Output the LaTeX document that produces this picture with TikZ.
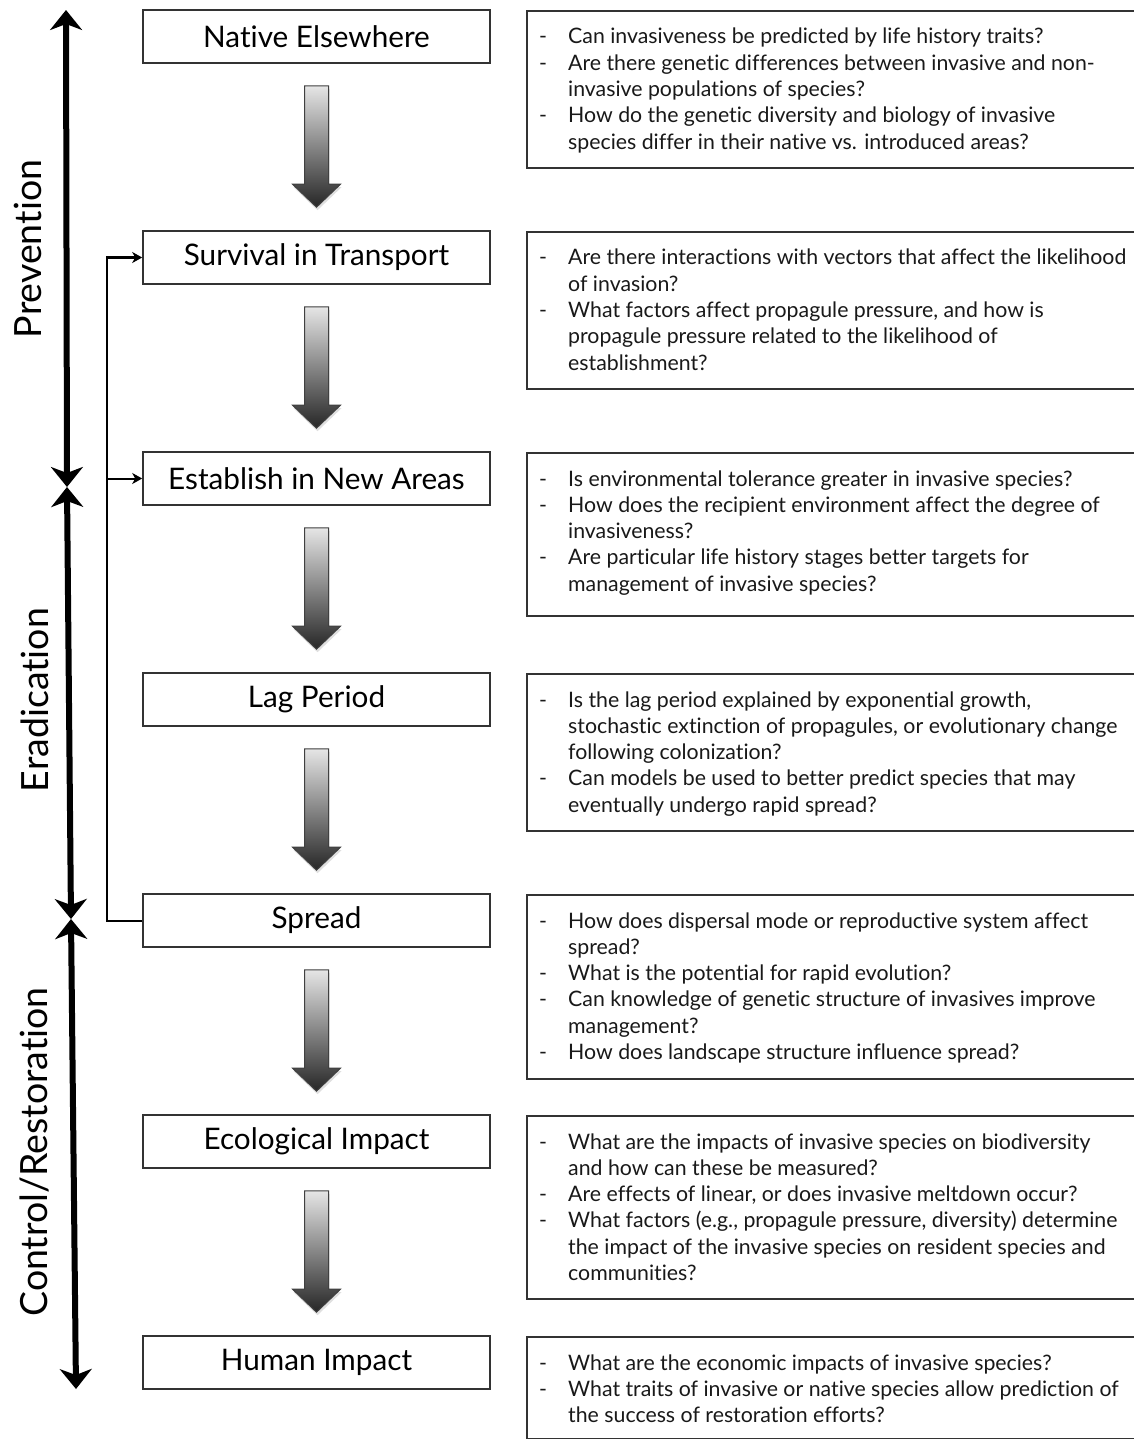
\documentclass[tikz,border=0pt]{standalone}
\usepackage{fontspec}
\setmainfont{Lato}[Ligatures={CommonOff}]
\usetikzlibrary{arrows.meta,calc,shadows}
\newcommand\qd{\makebox[29pt][l]{-}}
\newcommand\qi{\hspace*{29pt}}
\newcommand\blockarrow[2]{%
  \shadedraw[barrow] ($(#1.south)+(-12,-22)$) -- ($(#1.south)+(12,-22)$)
    -- ($(#2.north)+(12,46)$) -- ($(#2.north)+(24,46)$) -- ($(#2.north)+(0,23)$)
    -- ($(#2.north)+(-24,46)$) -- ($(#2.north)+(-12,46)$) -- cycle;}
\begin{document}
\begin{tikzpicture}[x=1pt,y=1pt,
  stage/.style={draw=black!80,line width=1.6pt,minimum width=347pt,minimum height=53pt,inner sep=0pt,font=\fontsize{29.7}{32}\selectfont,fill=white},
  qbox/.style={draw=black!80,line width=1.6pt,minimum width=614pt,inner sep=0pt,anchor=north west},
  qtext/.style={anchor=base west,inner sep=0pt,text=black!90,font=\fontsize{21.3}{26.3}\selectfont},
  phase/.style={rotate=90,font=\fontsize{37.5}{40}\selectfont,inner sep=0pt},
  bigarrow/.style={line width=6pt,{Stealth[length=20pt,width=32pt,inset=6pt]}-{Stealth[length=20pt,width=32pt,inset=6pt]}},
  conn/.style={line width=2pt,line join=miter,-{Stealth[length=10pt,width=11pt,inset=3pt]}},
  barrow/.style={draw=black!75,line width=1pt,top color=black!10,bottom color=black!85,drop shadow={shadow xshift=1pt,shadow yshift=-3pt,opacity=0.25}}
]
\useasboundingbox (0,0) rectangle (1134,-1439);
\fill[white] (0,0) rectangle (1134,-1439);

% stages
\node[stage] (native) at (316.5,-36.5) {Native Elsewhere};
\node[stage] (survival) at (316.5,-257.5) {Survival in Transport};
\node[stage] (establish) at (316.5,-478.5) {Establish in New Areas};
\node[stage] (lag) at (316.5,-699.5) {Lag Period};
\node[stage] (spread) at (316.5,-920.5) {Spread};
\node[stage] (eco) at (316.5,-1141.5) {Ecological Impact};
\node[stage] (human) at (316.5,-1362.5) {Human Impact};

\blockarrow{native}{survival}
\blockarrow{survival}{establish}
\blockarrow{establish}{lag}
\blockarrow{lag}{spread}
\blockarrow{spread}{eco}
\blockarrow{eco}{human}

% feedback bracket
\coordinate (brk) at (107,-920.5);
\draw[conn] (spread.west) -| (brk |- survival.west) -- (survival.west);
\draw[conn] (brk |- establish.west) -- (establish.west);

% phases
\coordinate (p1) at (66,-10);
\coordinate (p2) at (67,-487);
\coordinate (p3) at (71,-919);
\coordinate (p4) at (76,-1389);
\draw[bigarrow] (p2) -- (p1);
\draw[bigarrow] (p3) -- (p2);
\draw[bigarrow] (p4) -- (p3);
\node[phase] (prev) at (28,-249) {Prevention};
\node[phase] (erad) at (35,-700) {Eradication};
\node[phase] (ctrl) at (35,-1152) {Control/Restoration};

% question boxes
\node[qbox,minimum height=157pt] (q1) at (526,-10) {};
\node[qtext] (t1) at ($(q1.north west)+(13,-34)$) {\begin{tabular}[t]{@{}l@{}}
\qd Can invasiveness be predicted by life history traits?\\
\qd Are there genetic differences between invasive and non-\\
\qi invasive populations of species?\\
\qd How do the genetic diversity and biology of invasive\\
\qi species differ in their native vs. introduced areas?
\end{tabular}};

\node[qbox,minimum height=157pt] (q2) at (526,-231) {};
\node[qtext] (t2) at ($(q2.north west)+(13,-34)$) {\begin{tabular}[t]{@{}l@{}}
\qd Are there interactions with vectors that affect the likelihood\\
\qi of invasion?\\
\qd What factors affect propagule pressure, and how is\\
\qi propagule pressure related to the likelihood of\\
\qi establishment?
\end{tabular}};

\node[qbox,minimum height=163pt] (q3) at (526,-452) {};
\node[qtext] (t3) at ($(q3.north west)+(13,-34)$) {\begin{tabular}[t]{@{}l@{}}
\qd Is environmental tolerance greater in invasive species?\\
\qd How does the recipient environment affect the degree of\\
\qi invasiveness?\\
\qd Are particular life history stages better targets for\\
\qi management of invasive species?
\end{tabular}};

\node[qbox,minimum height=157pt] (q4) at (526,-673) {};
\node[qtext] (t4) at ($(q4.north west)+(13,-34)$) {\begin{tabular}[t]{@{}l@{}}
\qd Is the lag period explained by exponential growth,\\
\qi stochastic extinction of propagules, or evolutionary change\\
\qi following colonization?\\
\qd Can models be used to better predict species that may\\
\qi eventually undergo rapid spread?
\end{tabular}};

\node[qbox,minimum height=184pt] (q5) at (526,-894) {};
\node[qtext] (t5) at ($(q5.north west)+(13,-34)$) {\begin{tabular}[t]{@{}l@{}}
\qd How does dispersal mode or reproductive system affect\\
\qi spread?\\
\qd What is the potential for rapid evolution?\\
\qd Can knowledge of genetic structure of invasives improve\\
\qi management?\\
\qd How does landscape structure influence spread?
\end{tabular}};

\node[qbox,minimum height=183pt] (q6) at (526,-1115) {};
\node[qtext] (t6) at ($(q6.north west)+(13,-34)$) {\begin{tabular}[t]{@{}l@{}}
\qd What are the impacts of invasive species on biodiversity\\
\qi and how can these be measured?\\
\qd Are effects of linear, or does invasive meltdown occur?\\
\qd What factors (e.g., propagule pressure, diversity) determine\\
\qi the impact of the invasive species on resident species and\\
\qi communities?
\end{tabular}};

\node[qbox,minimum height=102pt] (q7) at (526,-1336) {};
\node[qtext] (t7) at ($(q7.north west)+(13,-34)$) {\begin{tabular}[t]{@{}l@{}}
\qd What are the economic impacts of invasive species?\\
\qd What traits of invasive or native species allow prediction of\\
\qi the success of restoration efforts?
\end{tabular}};
\end{tikzpicture}
\end{document}
